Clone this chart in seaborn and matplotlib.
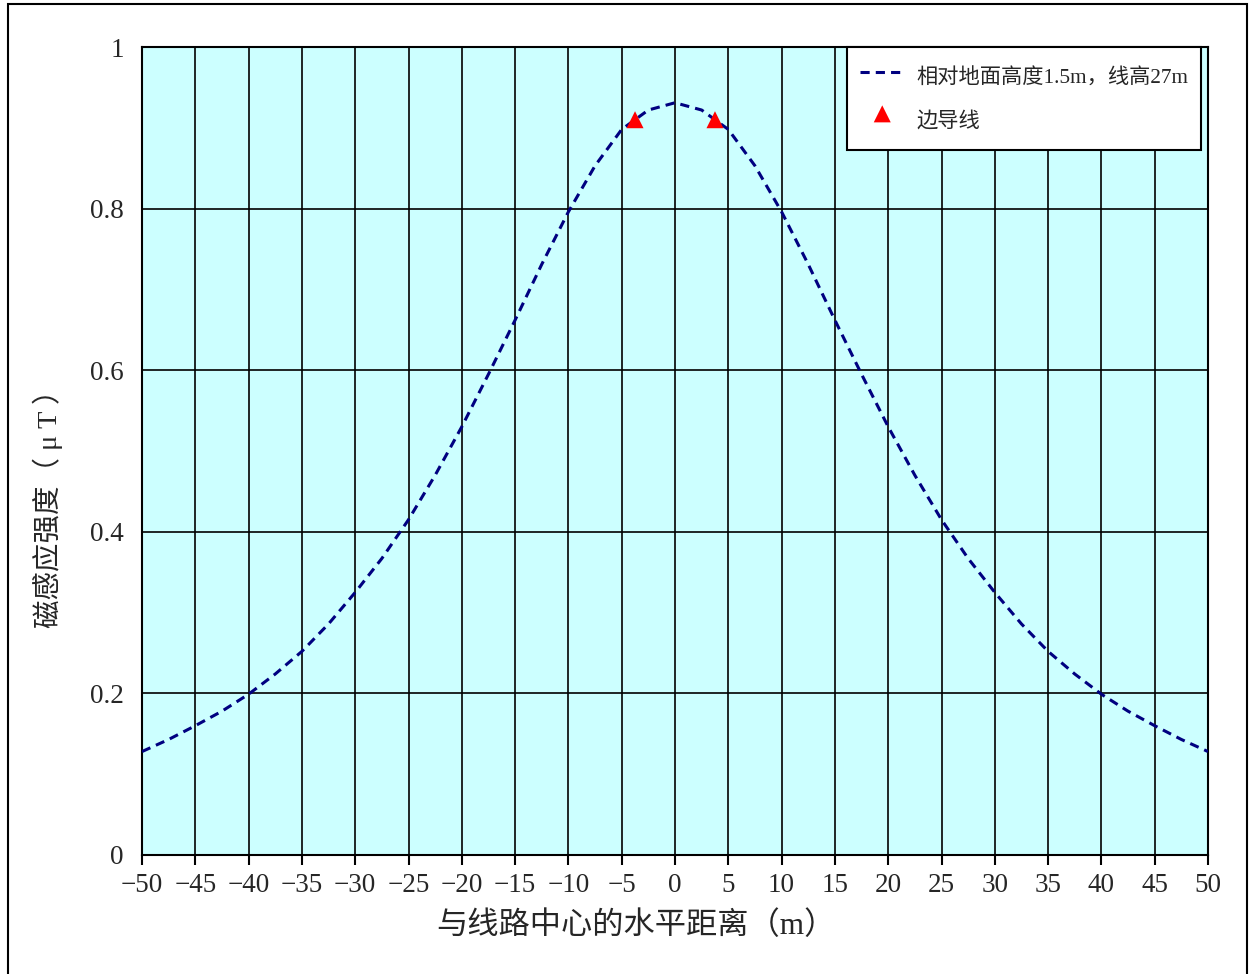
import matplotlib
matplotlib.use("Agg")
import matplotlib.pyplot as plt
import seaborn as sns
import pandas as pd
from matplotlib.patches import Rectangle

# ---- data ----
distance = [-50, -47.5, -45, -42.5, -40, -37.5, -35, -32.5, -30, -27.5, -25, -22.5,
            -20, -17.5, -15, -12.5, -10, -7.5, -5, -2.5, 0, 2.5, 5, 7.5, 10, 12.5,
            15, 17.5, 20, 22.5, 25, 27.5, 30, 32.5, 35, 37.5, 40, 42.5, 45, 47.5, 50]
field = [0.128, 0.143, 0.160, 0.178, 0.199, 0.224, 0.252, 0.286, 0.325, 0.367,
         0.415, 0.470, 0.530, 0.595, 0.662, 0.731, 0.796, 0.853, 0.898, 0.922,
         0.931, 0.922, 0.898, 0.853, 0.796, 0.731, 0.662, 0.595, 0.530, 0.470,
         0.415, 0.367, 0.325, 0.286, 0.252, 0.224, 0.199, 0.178, 0.160, 0.143, 0.128]
conductor_x = [-3.75, 3.75]
conductor_y = [0.91, 0.91]
x_ticks = list(range(-50, 55, 5))
y_ticks = [0, 0.2, 0.4, 0.6, 0.8, 1.0]
y_tick_labels = ["0", "0.2", "0.4", "0.6", "0.8", "1"]
line_label = "相对地面高度1.5m，线高27m"
marker_label = "边导线"
x_label = "与线路中心的水平距离（m）"
y_label = "磁感应强度（ μ T ）"

sns.set_style("white")
plt.rcParams["font.family"] = ["Liberation Serif", "Noto Sans CJK SC", "DejaVu Sans"]
plt.rcParams["axes.unicode_minus"] = True

curve = pd.DataFrame({"x": distance, "y": field})
cond = pd.DataFrame({"x": conductor_x, "y": conductor_y})

fig = plt.figure(figsize=(12.5, 9.74), dpi=100)
fig.patch.set_facecolor("white")
ax = fig.add_axes([142 / 1250, 1 - 855 / 974, (1208 - 142) / 1250, (855 - 47) / 974])
ax.set_facecolor("#CCFFFF")

sns.lineplot(data=curve, x="x", y="y", ax=ax, color="#000080", linewidth=2.2,
             label=line_label, zorder=4)
ax.lines[-1].set_dashes((3.0, 2.0))
sns.scatterplot(data=cond, x="x", y="y", ax=ax, marker="^", color="#FF0000",
                s=150, edgecolor="none", label=marker_label, zorder=5)

ax.set_xlim(-50, 50)
ax.set_ylim(0, 1)
ax.set_xticks(x_ticks)
ax.set_yticks(y_ticks)
ax.set_yticklabels(y_tick_labels)
ax.grid(True, color="black", linewidth=1.2)
ax.set_axisbelow(True)
for s in ax.spines.values():
    s.set_color("black")
    s.set_linewidth(1.5)
ax.tick_params(axis="x", direction="out", length=7.2, width=1.5, color="black",
               labelsize=19.5, pad=6, bottom=True)
ax.tick_params(axis="y", length=0, labelsize=19.5, pad=13)

ax.set_xlabel(x_label, fontsize=22.5)
ax.xaxis.set_label_coords((636 - 142) / 1066, -0.069)
ax.set_ylabel(y_label, fontsize=20.5)
ax.yaxis.set_label_coords(-0.0741, 0.437)

handles, labels = ax.get_legend_handles_labels()
leg = ax.legend(handles, labels, loc="upper right",
                bbox_to_anchor=((1201 - 142) / 1066, 1.0), borderaxespad=0,
                fontsize=15.3, frameon=True, fancybox=False, framealpha=1,
                edgecolor="black", handlelength=2.1, handletextpad=0.55,
                handleheight=2.1, labelspacing=0.42, borderpad=0.6,
                markerscale=1.0)
leg.get_frame().set_linewidth(1.5)

# outer figure border
fig.patches.append(Rectangle((8 / 1250, -0.02), (1247 - 8) / 1250, 1.02 - 4 / 974,
                             transform=fig.transFigure, fill=False,
                             edgecolor="black", linewidth=1.5))

fig.savefig("out.png", dpi=100)
